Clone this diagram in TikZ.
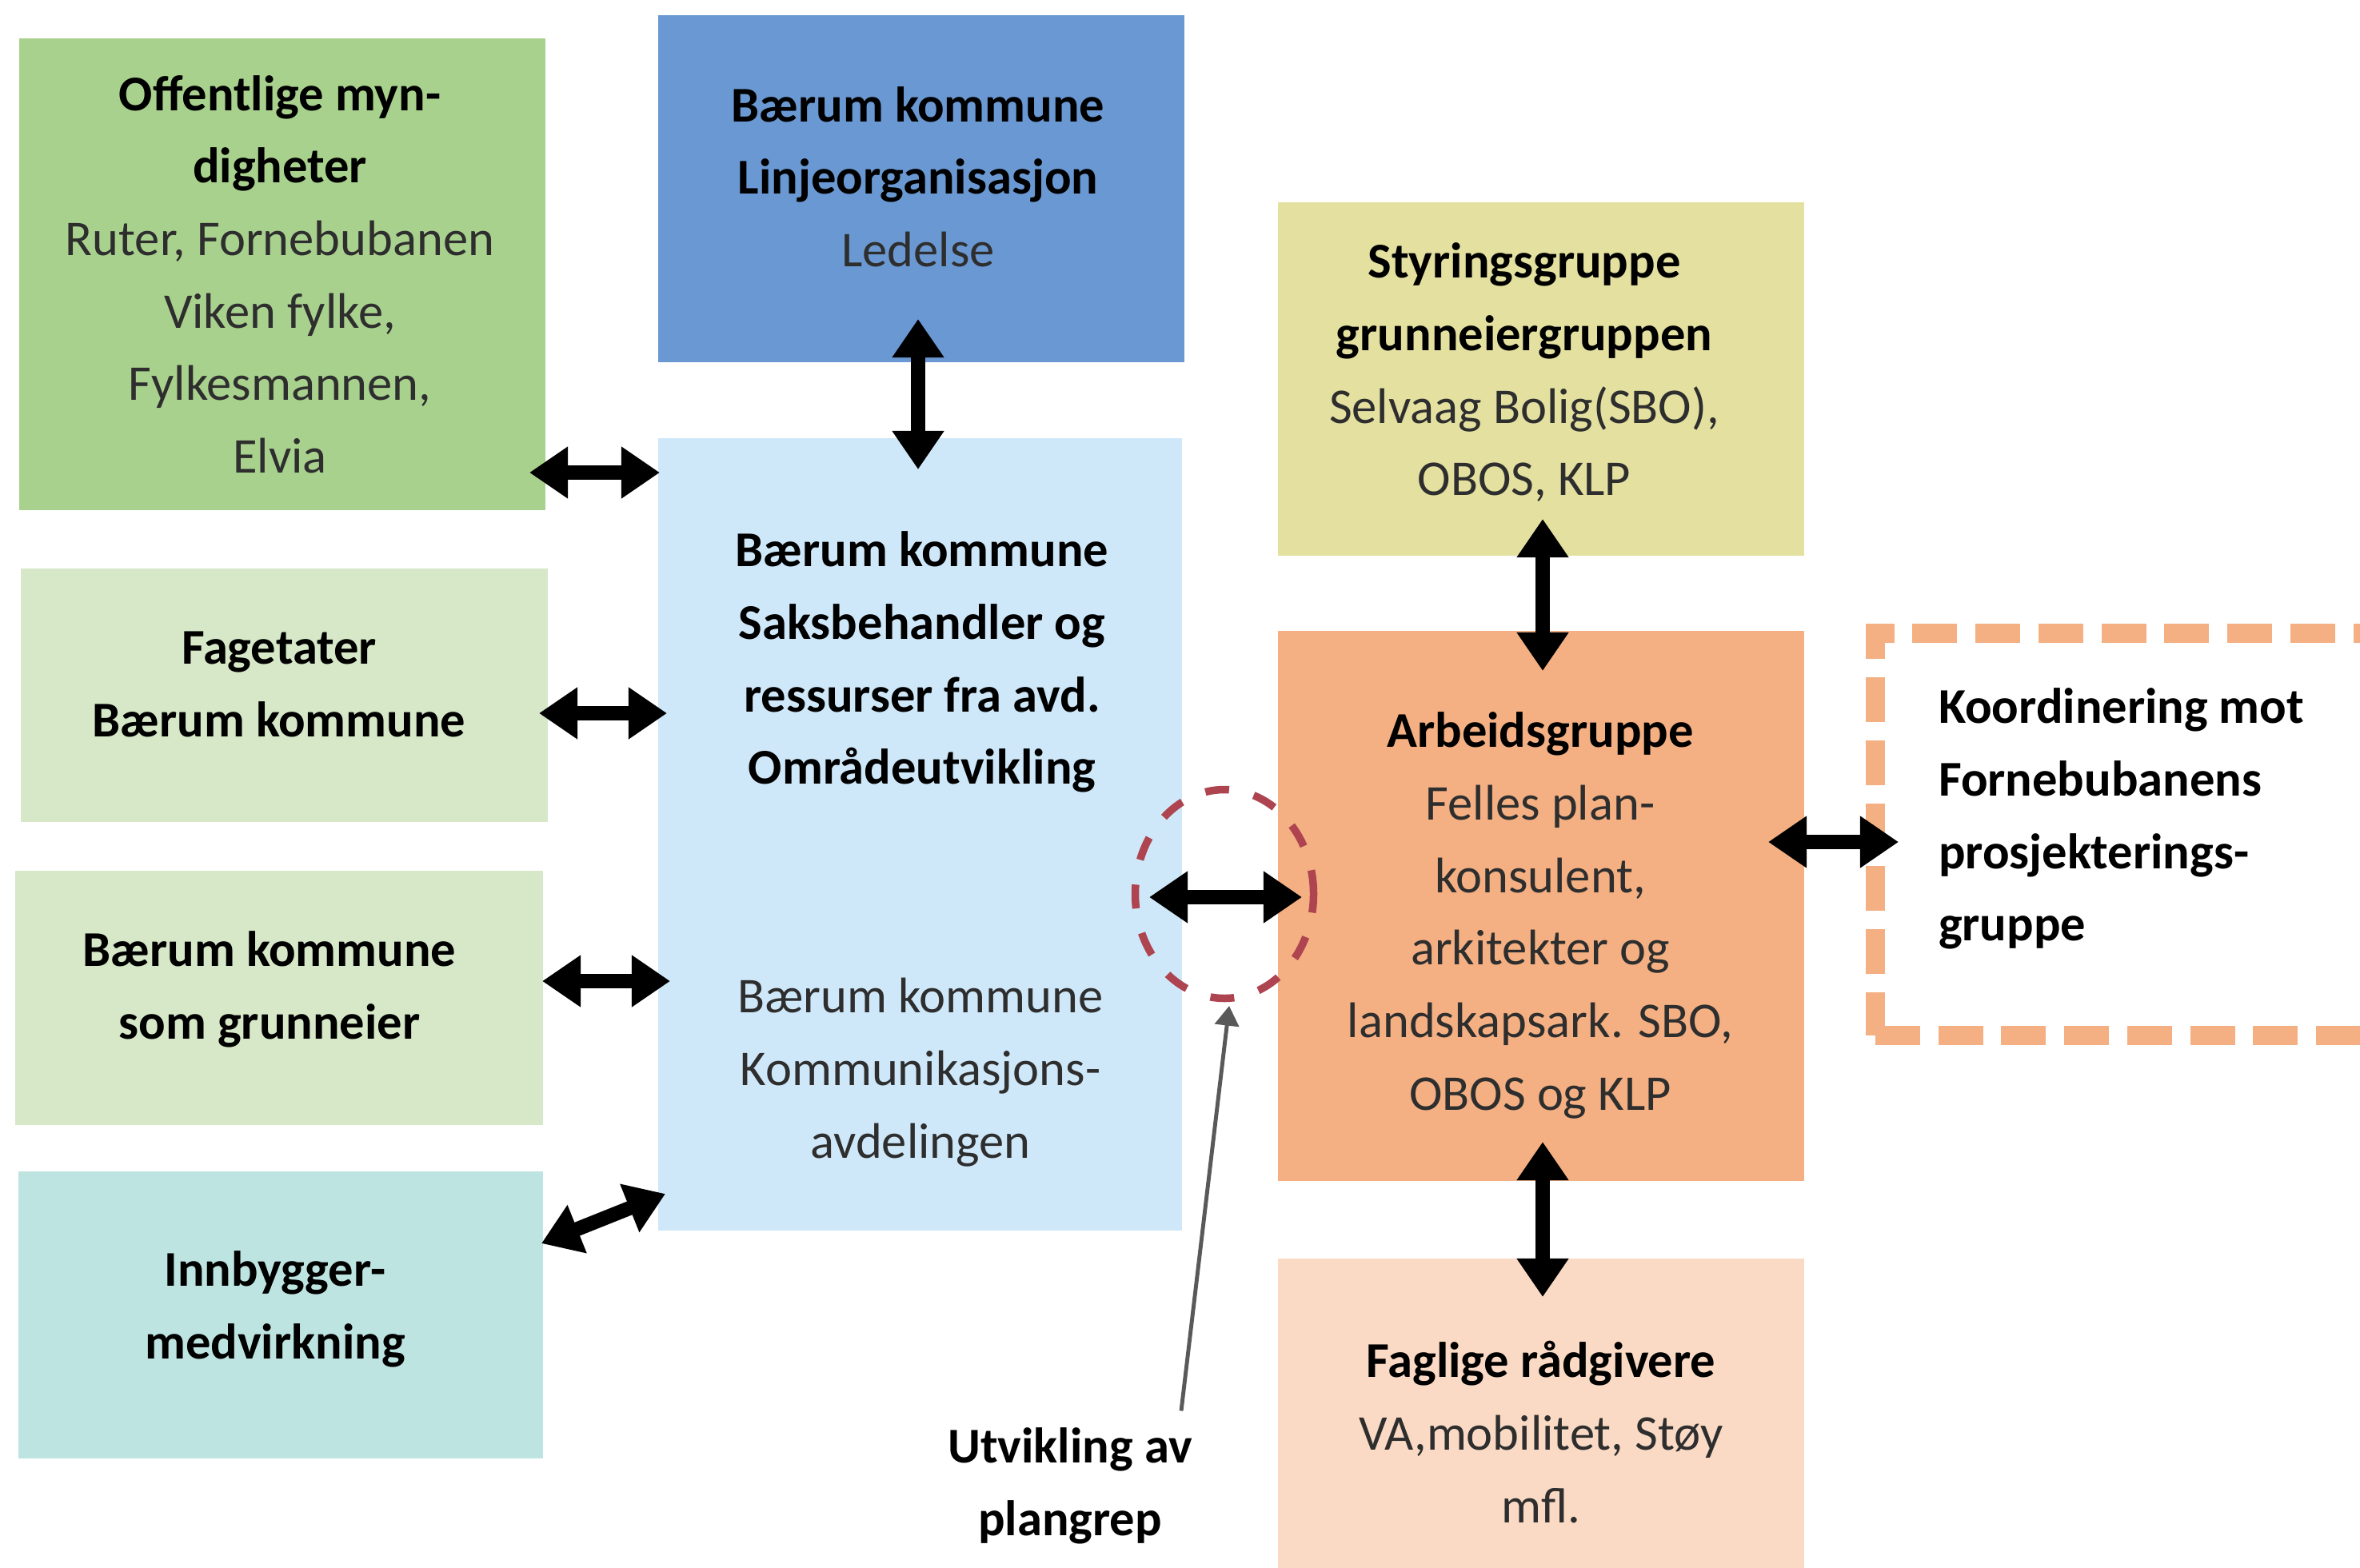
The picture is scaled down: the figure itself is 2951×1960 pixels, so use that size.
\documentclass[tikz,border=0pt]{standalone}
\usepackage{fontspec}
\setmainfont{Carlito}
\usetikzlibrary{arrows.meta,calc,shapes.geometric}
\definecolor{cOff}{HTML}{A9D18E}
\definecolor{cBlue}{HTML}{6A98D2}
\definecolor{cLB}{HTML}{CFE8F9}
\definecolor{cLG}{HTML}{D6E8C8}
\definecolor{cTeal}{HTML}{BEE4E1}
\definecolor{cKhaki}{HTML}{E3E0A0}
\definecolor{cOr}{HTML}{F4B083}
\definecolor{cPeach}{HTML}{FADAC4}
\definecolor{cRed}{HTML}{AD4450}
\definecolor{cTxt}{HTML}{2E2E2E}
\definecolor{cPtr}{HTML}{595959}
\newcommand\hb[1]{\textcolor{black}{\bfseries #1}}
\begin{document}
\begin{tikzpicture}[x=0.1mm,y=-0.1mm,
  box/.style={rectangle,draw=none,inner sep=0,outer sep=0},
  txt/.style={inner sep=0,outer sep=0,align=center,text=cTxt,font=\fontsize{17.8pt}{25.8pt}\selectfont},
  dbl/.style={line width=5.1pt,{Triangle[length=13.7pt,width=17.6pt]}-{Triangle[length=13.7pt,width=17.6pt]}},
  ptr/.style={draw=cPtr,line width=1.4pt,-{Triangle[length=7pt,width=8.5pt]}}]
\useasboundingbox (0,0) rectangle (2951,1960);
\fill[white] (0,0) rectangle (2951,1960);
\begin{scope}
\clip (0,0) rectangle (2951,1960);
% boxes
\node[box,fill=cOff,minimum width=65.8mm,minimum height=59mm] (off) at (353,343) {};
\node[box,fill=cBlue,minimum width=65.8mm,minimum height=43.4mm] (blue) at (1152,236) {};
\node[box,fill=cLB,minimum width=65.5mm,minimum height=99.1mm] (lb) at (1150.5,1043.5) {};
\node[box,fill=cLG,minimum width=65.9mm,minimum height=31.7mm] (fag) at (355.5,869.5) {};
\node[box,fill=cLG,minimum width=66mm,minimum height=31.8mm] (grunn) at (349,1248) {};
\node[box,fill=cTeal,minimum width=65.6mm,minimum height=35.9mm] (innb) at (351,1644.5) {};
\node[box,fill=cKhaki,minimum width=65.8mm,minimum height=44.2mm] (styr) at (1927,474) {};
\node[box,fill=cOr,minimum width=65.8mm,minimum height=68.8mm] (arb) at (1927,1133) {};
\node[box,fill=cPeach,minimum width=65.8mm,minimum height=40.1mm] (fagl) at (1927,1774.5) {};
\node[rectangle,draw=cOr,line width=6.8pt,dash pattern=on 15.9pt off 6.5pt,minimum width=70.5mm,minimum height=50.3mm,inner sep=0,outer sep=0] (koord) at (2697.5,1043.5) {};
\node[ellipse,draw=cRed,line width=2.7pt,dash pattern=on 8.5pt off 9pt,minimum width=22.3mm,minimum height=26.1mm,inner sep=0,outer sep=0] (circ) at (1531,1118) {};
% texts
\node[txt] (offT) at (350,343) {\hb{Offentlige myn-}\\\hb{digheter}\\Ruter, Fornebubanen\\Viken fylke,\\Fylkesmannen,\\Elvia};
\node[txt] (blueT) at (1148,221) {\hb{Bærum kommune}\\\hb{Linjeorganisasjon}\\Ledelse};
\node[txt] (saksT) at (1153,828) {\hb{Bærum kommune}\\\hb{Saksbehandler og}\\\hb{ressurser fra avd.}\\\hb{Områdeutvikling}};
\node[txt] (kommT) at (1151,1341) {Bærum kommune\\Kommunikasjons-\\avdelingen};
\node[txt] (fagT) at (349,856) {\hb{Fagetater}\\\hb{Bærum kommune}};
\node[txt] (grunnT) at (337,1237) {\hb{Bærum kommune}\\\hb{som grunneier}};
\node[txt] (innbT) at (344,1637) {\hb{Innbygger-}\\\hb{medvirkning}};
\node[txt] (styrT) at (1906,466) {\hb{Styringsgruppe}\\\hb{grunneiergruppen}\\Selvaag Bolig(SBO),\\OBOS, KLP};
\node[txt] (arbT) at (1926,1145) {\hb{Arbeidsgruppe}\\Felles plan-\\konsulent,\\arkitekter og\\landskapsark. SBO,\\OBOS og KLP};
\node[txt] (faglT) at (1927,1791) {\hb{Faglige rådgivere}\\VA,mobilitet, Støy\\mfl.};
\node[txt,align=left,anchor=west] (koordT) at (2424,1024) {\hb{Koordinering mot}\\\hb{Fornebubanens}\\\hb{prosjekterings-}\\\hb{gruppe}};
\node[txt] (utv) at (1338,1858) {\hb{Utvikling av}\\\hb{plangrep}};
% connectors
\draw[dbl] ($(off.south east)+(-20,-47)$) -- ($(lb.north west)+(2,43)$);
\draw[dbl] ($(blue.south)+(-4,-54)$) -- ($(lb.north)+(-2.5,39)$);
\draw[dbl] ($(fag.east)+(-11,22.5)$) -- ($(lb.west)+(11,-151.5)$);
\draw[dbl] ($(grunn.east)+(-1,-21)$) -- ($(lb.west)+(15,183.5)$);
\draw[dbl] ($(innb.north east)+(-2,90)$) -- ($(lb.south west)+(9,-46)$);
\draw[dbl] ($(lb.east)+(-41,78.5)$) -- ($(arb.west)+(30,-11)$);
\draw[dbl] ($(styr.south)+(2,-46)$) -- ($(arb.north)+(2,50)$);
\draw[dbl] ($(arb.south)+(2,-49)$) -- ($(fagl.north)+(2,48)$);
\draw[dbl] ($(arb.east)+(-45,-80)$) -- ($(koord.west)+(29,9.5)$);
\draw[ptr] ($(utv.north)+(139,-21)$) -- ($(circ.south)+(6,9.5)$);
\end{scope}
\end{tikzpicture}
\end{document}
